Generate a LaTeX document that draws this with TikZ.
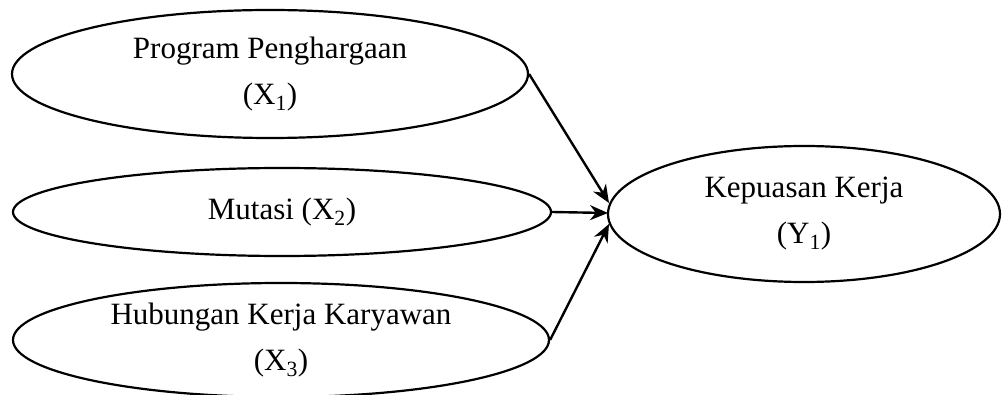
\documentclass[tikz,border=0pt]{standalone}
\usepackage{fontspec}
\setmainfont{Liberation Serif}
\usetikzlibrary{shapes.geometric,arrows.meta}
\tikzset{
  var/.style={ellipse, draw, line width=2.2pt, inner sep=0pt, align=center,
    font=\fontsize{31}{46}\selectfont},
  link/.style={line width=2.4pt, -{Stealth[length=18pt,width=15pt]}}
}
\begin{document}
\begin{tikzpicture}[x=1pt,y=-1pt]
\useasboundingbox (0,0) rectangle (1002,395);
\node[var, minimum width=516pt, minimum height=128pt] (X1) at (270,74)
  {Program Penghargaan\\(X\textsubscript{1})};
\node[var, minimum width=538pt, minimum height=88pt] (X2) at (282,212)
  {Mutasi (X\textsubscript{2})};
\node[var, minimum width=536pt, minimum height=114pt] (X3) at (281,340)
  {Hubungan Kerja Karyawan\\(X\textsubscript{3})};
\node[var, minimum width=392pt, minimum height=136pt] (Y) at (804,214)
  {Kepuasan Kerja\\(Y\textsubscript{1})};
\coordinate (t1) at (609,203);
\coordinate (t2) at (608,213);
\coordinate (t3) at (609,224);
\draw[link] (X1.east) -- (t1);
\draw[link] (X2.east) -- (t2);
\draw[link] (X3.east) -- (t3);
\end{tikzpicture}
\end{document}
